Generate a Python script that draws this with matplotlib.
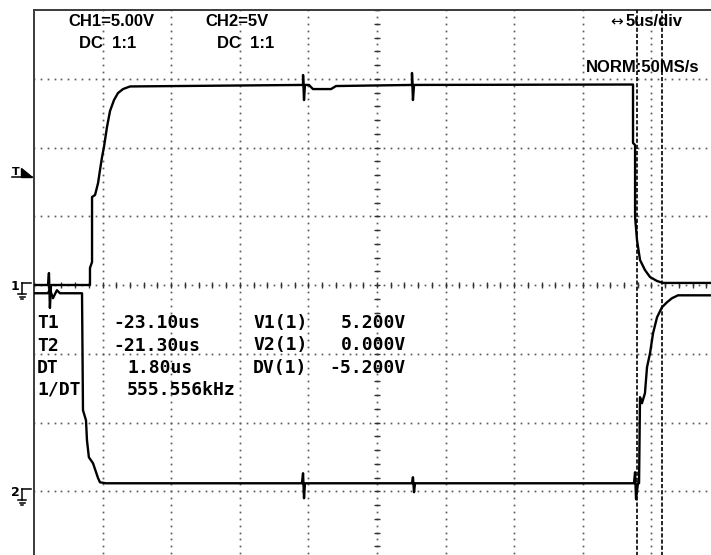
import numpy as np
import matplotlib
matplotlib.use("Agg")
import matplotlib.pyplot as plt
from matplotlib.lines import Line2D
from matplotlib.patches import Polygon

W, H = 711, 555

# 通道1：时间 (us) / 电压 (V)，5us/div，5V/div
ch1_t = [-25.00, -23.98, -23.91, -23.84, -23.76, -20.92, -20.92, -20.77, -20.77, -20.55,
         -20.33, -20.19, -20.04, -19.90, -19.68, -19.46, -19.17, -18.88, -18.51, -18.00,
         -5.39, -5.39, -5.32, -5.25, -4.96, -4.67, -3.35, -2.99, 2.55, 2.55,
         2.62, 2.70, 18.66, 18.66, 18.81, 18.81, 18.95, 19.17, 19.53, 19.90,
         20.41, 20.85, 25.00]
ch1_v = [0.00, 0.00, 0.87, -1.67, 0.00, 0.00, 1.24, 1.67, 6.40, 6.55,
         7.42, 8.36, 9.31, 10.04, 11.49, 12.65, 13.45, 13.96, 14.25, 14.44,
         14.55, 15.27, 13.45, 14.55, 14.55, 14.25, 14.25, 14.47, 14.55, 15.42,
         13.45, 14.55, 14.58, 10.33, 10.18, 4.95, 3.27, 1.82, 1.09, 0.58,
         0.29, 0.15, 0.15]

# 通道2：时间 (us) / 电压 (V)，显示偏移 -3 div
ch2_t = [-25.00, -23.98, -23.84, -23.62, -23.33, -23.11, -21.50, -21.43, -21.21, -21.14,
         -21.00, -20.70, -20.33, -20.19, -19.75, -5.47, -5.39, -5.32, -5.25, 2.55,
         2.62, 2.70, 2.77, 18.73, 18.81, 18.88, 19.02, 19.10, 19.17, 19.31,
         19.53, 19.68, 19.90, 20.12, 20.41, 20.77, 21.14, 21.50, 21.94, 25.00]
ch2_v = [14.40, 14.40, 14.69, 14.04, 14.62, 14.40, 14.40, 5.89, 5.16, 3.71,
         2.47, 2.04, 0.95, 0.65, 0.58, 0.58, 1.31, -0.51, 0.58, 0.58,
         1.02, -0.07, 0.58, 0.58, 1.38, -0.58, 0.58, 0.58, 6.84, 6.40,
         7.13, 9.02, 10.04, 11.49, 12.65, 13.38, 13.75, 14.04, 14.25, 14.25]
ch2_offset = -15.0

cursor_t = [18.95, 20.77]

header_left = ["CH1=5.00V", "CH2=5V"]
header_dc = ["DC  1:1", "DC  1:1"]
timebase = "5us/div"
mode_rate = "NORM:50MS/s"

meas_names = ["T1", "T2", "DT", "1/DT"]
meas_values = ["-23.10us", "-21.30us", "1.80us", "555.556kHz"]
volt_names = ["V1(1)", "V2(1)", "DV(1)"]
volt_values = ["5.200V", "0.000V", "-5.200V"]


def P(x, y):
    # 像素坐标 -> 图坐标
    return x / W, 1 - y / H


fig = plt.figure(figsize=(W / 100, H / 100), dpi=100)
ax = fig.add_axes([34 / W, -5 / H, 686 / W, 550 / H])
ax.set_xlim(-25, 25)
ax.set_ylim(-20, 20)
ax.set_xticks([])
ax.set_yticks([])
for s in ["left", "top", "right", "bottom"]:
    ax.spines[s].set_color("#3a3a3a")
    ax.spines[s].set_linewidth(1.4)

# 点状网格
grid_c = "#5a5a5a"
ys = np.arange(-20, 20.01, 0.5)
xs = np.arange(-25, 25.01, 0.5)
for gx in range(-20, 21, 5):
    ax.plot(np.full_like(ys, gx), ys, ls="none", marker="s", ms=1.25, mew=0, color=grid_c)
for gy in range(-15, 16, 5):
    ax.plot(xs, np.full_like(xs, gy), ls="none", marker="s", ms=1.25, mew=0, color=grid_c)

# 中心刻度
tx = np.arange(-25, 25.01, 1.0)
ty = np.arange(-20, 20.01, 1.0)
ax.plot(tx, np.zeros_like(tx), ls="none", marker="|", ms=4.5, mew=1.0, color="#333333")
ax.plot(np.zeros_like(ty), ty, ls="none", marker="_", ms=4.5, mew=1.0, color="#333333")

# 波形
ax.plot(ch1_t, ch1_v, color="black", lw=1.7, zorder=5)
ax.plot(ch2_t, np.array(ch2_v) + ch2_offset, color="black", lw=1.7, zorder=5)

# 光标
for c in cursor_t:
    ax.axvline(c, color="black", lw=1.2, ls=(0, (2.5, 1.2)), zorder=6)

# 顶部文字
hfont = dict(family=["Liberation Sans", "DejaVu Sans"], weight="bold", fontsize=12, va="center", ha="left")
fig.text(*P(68, 22), header_left[0], **hfont)
fig.text(*P(79, 44), header_dc[0], **hfont)
fig.text(*P(205, 22), header_left[1], **hfont)
fig.text(*P(217, 44), header_dc[1], **hfont)
fig.text(*P(610, 22), "\u2194", family="DejaVu Sans", fontsize=11, va="center", ha="left")
fig.text(*P(626, 22), timebase, **hfont)
fig.text(*P(586, 67), mode_rate, **hfont)

# 测量结果
mfont = dict(family="DejaVu Sans Mono", weight="bold", fontsize=13, va="center")
rows_t = [323, 346, 368, 390]
val_x = [113, 113, 127, 127]
for name, val, y, vx in zip(meas_names, meas_values, rows_t, val_x):
    fig.text(*P(37, y), name, ha="left", **mfont)
    fig.text(*P(vx, y), val, ha="left", **mfont)
rows_v = [323, 345, 368]
for name, val, y in zip(volt_names, volt_values, rows_v):
    fig.text(*P(253, y), name, ha="left", **mfont)
    fig.text(*P(406, y), val, ha="right", **mfont)


# 地线标记
def ground_mark(label, y0):
    fig.text(*P(15, y0 + 1), label, ha="center", va="center", fontsize=9, weight="bold",
             family="DejaVu Sans")
    segs = [((22, y0 - 2), (31, y0 - 2)), ((22, y0 - 2), (22, y0 + 9)),
            ((18, y0 + 9), (26, y0 + 9)), ((19.5, y0 + 11.5), (24.5, y0 + 11.5)),
            ((21, y0 + 14), (23, y0 + 14))]
    for a, b in segs:
        fig.add_artist(Line2D([a[0] / W, b[0] / W], [1 - a[1] / H, 1 - b[1] / H],
                              color="black", lw=1.1))


ground_mark("1", 285)
ground_mark("2", 491)

# 触发标记
fig.text(*P(15.5, 172), "T", ha="center", va="center", fontsize=8, weight="bold", family="DejaVu Sans")
fig.add_artist(Line2D([12 / W, 32 / W], [1 - 177 / H, 1 - 177 / H], color="black", lw=1.1))
fig.add_artist(Polygon([P(21, 168), P(21, 177), P(32, 177)], closed=True, color="black",
                       transform=fig.transFigure))

fig.savefig("out.png", dpi=100)
